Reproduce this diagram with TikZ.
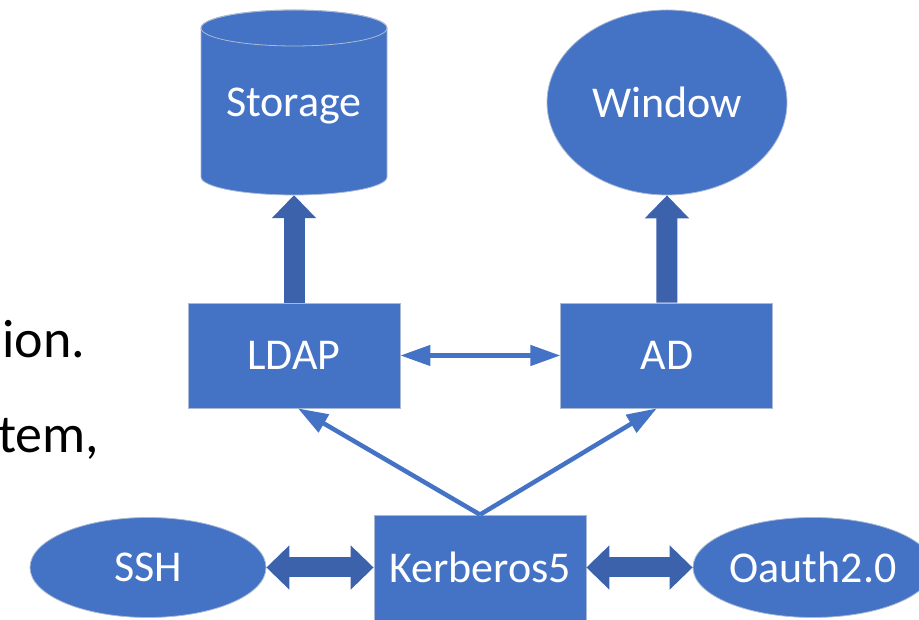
\documentclass[tikz,border=0pt]{standalone}
\usepackage{fontspec}
\setmainfont{Carlito}
\usetikzlibrary{arrows.meta,positioning,shapes.geometric}
\definecolor{officeblue}{RGB}{68,114,196}
\definecolor{arrowblue}{RGB}{61,98,172}
\definecolor{edgegray}{RGB}{170,186,214}

\begin{document}
\begin{tikzpicture}[x=1pt, y=1pt,
  box/.style={rectangle, draw=edgegray, fill=officeblue, line width=0.8pt, minimum width=212pt, minimum height=105pt, inner sep=0pt, text=white, font=\fontsize{44}{44}\selectfont},
  oval/.style={ellipse, draw=edgegray, fill=officeblue, line width=0.8pt, inner sep=0pt, text=white, font=\fontsize{44}{44}\selectfont},
  blockarrow/.style={arrowblue, line width=21pt, -{Triangle[length=23pt, width=43pt]}},
  blockboth/.style={arrowblue, line width=20pt, {Triangle[length=23pt, width=43pt]}-{Triangle[length=23pt, width=43pt]}},
  thinarrow/.style={officeblue, line width=4.5pt, -{Triangle[length=30pt, width=20pt]}}]

\fill[white] (0,0) rectangle (919,620);
\useasboundingbox (0,0) rectangle (919,620);

% storage cylinder
\fill[officeblue, draw=edgegray, line width=0.8pt] (201,592) -- (201,443) arc[start angle=180, end angle=360, x radius=93, y radius=18] -- (387,592) arc[start angle=0, end angle=180, x radius=93, y radius=18] -- cycle;
\draw[edgegray, line width=0.8pt] (294,592) ellipse[x radius=93, y radius=18];
\node[rectangle, minimum width=186pt, minimum height=185pt, inner sep=0pt, text depth=0pt, text=white, font=\fontsize{44}{44}\selectfont] (storage) at (294,517.5) {Storage};

\node[oval, minimum width=240pt, minimum height=185pt] (window) at (667,517.5) {Window};

\node[box] (ldap) at (294,264.5) {LDAP};
\node[box, right=160pt of ldap] (ad) {AD};
\node[box] (kerb) at (480,52.5) {Kerberos5};
\node[oval, minimum width=236pt, minimum height=100pt] (ssh) at (148,52.5) {SSH};
\node[oval, minimum width=240pt, minimum height=100pt] (oauth) at (813,52.5) {Oauth2.0};

% cut off slide text
\node[anchor=base west, inner sep=0pt, font=\fontsize{54}{54}\selectfont] (txtion) at (2,262) {ion.};
\node[anchor=base west, inner sep=0pt, font=\fontsize{54}{54}\selectfont] (txttem) at (-2,167) {tem,};

\draw[blockarrow] (ldap.north) -- (storage.south);
\draw[blockarrow] (ad.north) -- (window.south);

\draw[officeblue, line width=4.5pt, {Triangle[length=30pt, width=20pt]}-{Triangle[length=30pt, width=20pt]}] (ldap.east) -- (ad.west);

\draw[thinarrow] (kerb.north) -- ([xshift=4pt]ldap.south);
\draw[thinarrow] (kerb.north) -- ([xshift=-10pt]ad.south);

\draw[blockboth] (ssh.east) -- (kerb.west);
\draw[blockboth] (kerb.east) -- (oauth.west);

\end{tikzpicture}
\end{document}
